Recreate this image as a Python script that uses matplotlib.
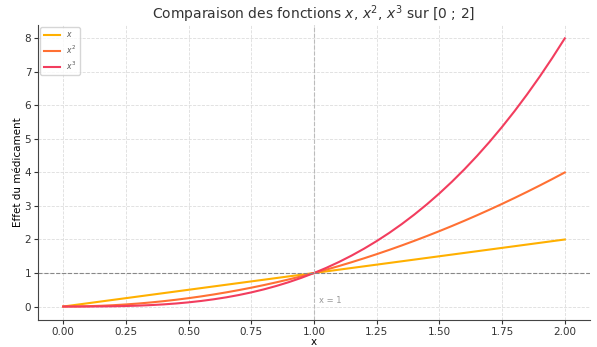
import matplotlib
matplotlib.use("Agg")
import matplotlib.pyplot as plt

# valeurs (pas de 0.05)
x_vals = [0.0, 0.05, 0.1, 0.15, 0.2, 0.25, 0.3, 0.35, 0.4, 0.45, 0.5,
          0.55, 0.6, 0.65, 0.7, 0.75, 0.8, 0.85, 0.9, 0.95, 1.0,
          1.05, 1.1, 1.15, 1.2, 1.25, 1.3, 1.35, 1.4, 1.45, 1.5,
          1.55, 1.6, 1.65, 1.7, 1.75, 1.8, 1.85, 1.9, 1.95, 2.0]
y_lin = [0.0, 0.05, 0.1, 0.15, 0.2, 0.25, 0.3, 0.35, 0.4, 0.45, 0.5,
         0.55, 0.6, 0.65, 0.7, 0.75, 0.8, 0.85, 0.9, 0.95, 1.0,
         1.05, 1.1, 1.15, 1.2, 1.25, 1.3, 1.35, 1.4, 1.45, 1.5,
         1.55, 1.6, 1.65, 1.7, 1.75, 1.8, 1.85, 1.9, 1.95, 2.0]
y_sq = [0.0, 0.0025, 0.01, 0.0225, 0.04, 0.0625, 0.09, 0.1225, 0.16, 0.2025, 0.25,
        0.3025, 0.36, 0.4225, 0.49, 0.5625, 0.64, 0.7225, 0.81, 0.9025, 1.0,
        1.1025, 1.21, 1.3225, 1.44, 1.5625, 1.69, 1.8225, 1.96, 2.1025, 2.25,
        2.4025, 2.56, 2.7225, 2.89, 3.0625, 3.24, 3.4225, 3.61, 3.8025, 4.0]
y_cube = [0.0, 0.000125, 0.001, 0.003375, 0.008, 0.015625, 0.027, 0.042875, 0.064, 0.091125, 0.125,
          0.166375, 0.216, 0.274625, 0.343, 0.421875, 0.512, 0.614125, 0.729, 0.857375, 1.0,
          1.157625, 1.331, 1.520875, 1.728, 1.953125, 2.197, 2.460375, 2.744, 3.048625, 3.375,
          3.723875, 4.096, 4.492125, 4.913, 5.359375, 5.832, 6.331625, 6.859, 7.414875, 8.0]

labels = ["$x$", "$x^2$", "$x^3$"]
colors = ["#FFB000", "#FF7033", "#F23D5E"]
xtick_vals = [0.0, 0.25, 0.5, 0.75, 1.0, 1.25, 1.5, 1.75, 2.0]
xtick_labels = ["0.00", "0.25", "0.50", "0.75", "1.00", "1.25", "1.50", "1.75", "2.00"]

fig = plt.figure(figsize=(5.97, 3.47), dpi=100)
ax = fig.add_axes([0.064, 0.078, 0.924, 0.85])

for y, lab, c in zip([y_lin, y_sq, y_cube], labels, colors):
    ax.plot(x_vals, y, color=c, linewidth=1.5, label=lab)

ax.axhline(1, color="#888888", linestyle="--", linewidth=0.8)
ax.axvline(1, color="#BBBBBB", linestyle="--", linewidth=0.8)
ax.text(1.02, 0.1, "x = 1", color="#999999", fontsize=6)

ax.set_xlim(-0.1, 2.1)
ax.set_ylim(-0.4, 8.4)
ax.set_xticks(xtick_vals)
ax.set_xticklabels(xtick_labels)
ax.set_yticks(range(0, 9))
ax.tick_params(labelsize=7.5, colors="#333333", length=3, width=0.8, pad=2)
ax.grid(True, linestyle="--", color="#DDDDDD", linewidth=0.6)
for s in ["top", "right"]:
    ax.spines[s].set_visible(False)
for s in ["left", "bottom"]:
    ax.spines[s].set_color("#444444")
    ax.spines[s].set_linewidth(0.8)

ax.set_title("Comparaison des fonctions $x$, $x^2$, $x^3$ sur [0 ; 2]",
             fontsize=10, color="#333333", pad=4)
ax.set_xlabel("x", fontsize=7.5, labelpad=0)
ax.set_ylabel("Effet du médicament", fontsize=7.5, labelpad=1)
leg = ax.legend(loc="upper left", fontsize=5.5, handlelength=2.2,
                labelspacing=0.5, borderpad=0.4, borderaxespad=0.3)
for t in leg.get_texts():
    t.set_color("#555555")

fig.savefig("out.png", dpi=100)
